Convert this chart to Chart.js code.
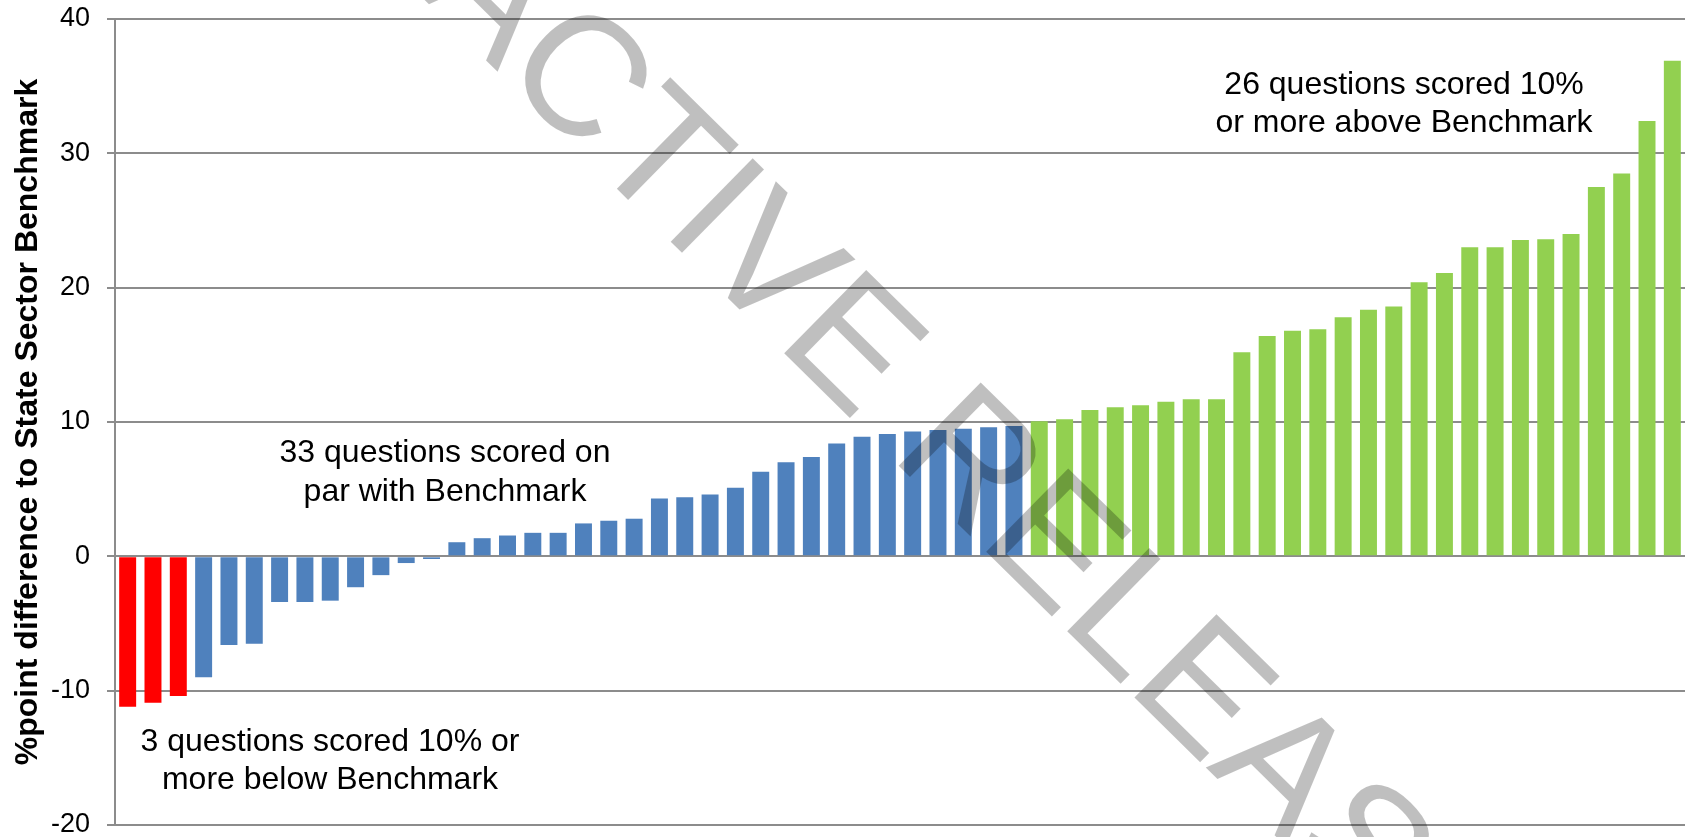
<!DOCTYPE html>
<html>
<head>
<meta charset="utf-8">
<title>Benchmark comparison</title>
<script src="https://cdn.jsdelivr.net/npm/chart.js@4.4.0/dist/chart.umd.min.js"></script>
<style>
	html, body { margin: 0; padding: 0; background: #ffffff; }
	canvas { display: block; }
</style>
</head>
<body>
<canvas id="benchmarkChart" width="1692" height="837"></canvas>
<script>
// %point difference per question, sorted low to high
var belowValues = [-11.2, -10.9, -10.4];
var parValues = [-9.0, -6.6, -6.5, -3.4, -3.4, -3.3, -2.3, -1.4, -0.5, -0.2,
	1.05, 1.35, 1.55, 1.75, 1.75, 2.45, 2.65, 2.8, 4.3, 4.4, 4.6, 5.1,
	6.3, 7.0, 7.4, 8.4, 8.9, 9.1, 9.3, 9.4, 9.5, 9.6, 9.7];
var aboveValues = [10.05, 10.2, 10.9, 11.1, 11.25, 11.5, 11.7, 11.7, 15.2, 16.4,
	16.8, 16.9, 17.8, 18.35, 18.6, 20.4, 21.1, 23.0, 23.0, 23.55, 23.6, 24.0,
	27.5, 28.5, 32.4, 36.9];
var yTicks = [-20, -10, 0, 10, 20, 30, 40];

var colors = {
	below: '#ff0000',
	par: '#4f81bd',
	above: '#92d050',
	grid: '#8c8c8c'
};

var fontFamily = '"Liberation Sans", Arial, sans-serif';

// one bar per question, coloured by group
var scores = belowValues.concat(parValues, aboveValues);
var barColors = [];
belowValues.forEach(function(){ barColors.push(colors.below); });
parValues.forEach(function(){ barColors.push(colors.par); });
aboveValues.forEach(function(){ barColors.push(colors.above); });
var questionLabels = scores.map(function(v, i){ return 'Q' + (i + 1); });

// group notes, axis title and the watermark
var notesPlugin = {
	id: 'notes',
	afterDatasetsDraw: function(chart){
		var c = chart.ctx;
		var area = chart.chartArea;
		c.save();
		c.fillStyle = '#000000';
		c.font = '32px ' + fontFamily;
		c.textAlign = 'center';
		c.textBaseline = 'middle';
		c.fillText('26 questions scored 10%', 1404, 85);
		c.fillText('or more above Benchmark', 1404, 123);
		c.fillText('33 questions scored on', 445, 453);
		c.fillText('par with Benchmark', 445, 492);
		c.fillText('3 questions scored 10% or', 330, 742);
		c.fillText('more below Benchmark', 330, 780);

		// y axis title
		c.translate(37, (area.top + area.bottom) / 2);
		c.rotate(-Math.PI / 2);
		c.font = 'bold 32px ' + fontFamily;
		c.textBaseline = 'alphabetic';
		c.fillText('%point difference to State Sector Benchmark', 0, 0);
		c.restore();
	},
	afterDraw: function(chart){
		var c = chart.ctx;
		var text = 'PROACTIVE RELEASE';
		var angle = 44.5 * Math.PI / 180;
		var size = 170;
		c.save();
		c.font = size + 'px ' + fontFamily;
		// foot of the R stem sits at (904, 471)
		var toR = c.measureText('PROACTIVE ').width + 0.126 * size;
		var ox = 904 - toR * Math.cos(angle);
		var oy = 471 - toR * Math.sin(angle);
		c.translate(ox, oy);
		c.rotate(angle);
		c.fillStyle = 'rgba(0, 0, 0, 0.25)';
		c.textAlign = 'left';
		c.textBaseline = 'alphabetic';
		c.fillText(text, 0, 0);
		c.restore();
	}
};

var ctx = document.getElementById('benchmarkChart').getContext('2d');
var benchmarkChart = new Chart(ctx, {
	type: 'bar',
	data: {
		labels: questionLabels,
		datasets: [{
			data: scores,
			backgroundColor: barColors,
			borderWidth: 0,
			categoryPercentage: 1,
			barPercentage: 0.67
		}]
	},
	options: {
		responsive: false,
		animation: false,
		devicePixelRatio: 1,
		layout: { padding: { top: 19, right: 7, bottom: 12, left: 0 } },
		plugins: {
			legend: { display: false },
			tooltip: { enabled: false }
		},
		scales: {
			x: { display: false },
			y: {
				min: yTicks[0],
				max: yTicks[yTicks.length - 1],
				afterBuildTicks: function(scale){
					scale.ticks = yTicks.map(function(v){ return { value: v }; });
				},
				ticks: {
					color: '#000000',
					padding: 17,
					font: { family: fontFamily, size: 27 }
				},
				grid: {
					color: colors.grid,
					lineWidth: 2,
					tickLength: 8,
					drawTicks: true
				},
				border: { color: colors.grid, width: 2 },
				afterFit: function(scale){
					scale.width = 115;
					scale.paddingTop = 0;
					scale.paddingBottom = 0;
				}
			}
		}
	},
	plugins: [notesPlugin]
});
</script>
</body>
</html>
